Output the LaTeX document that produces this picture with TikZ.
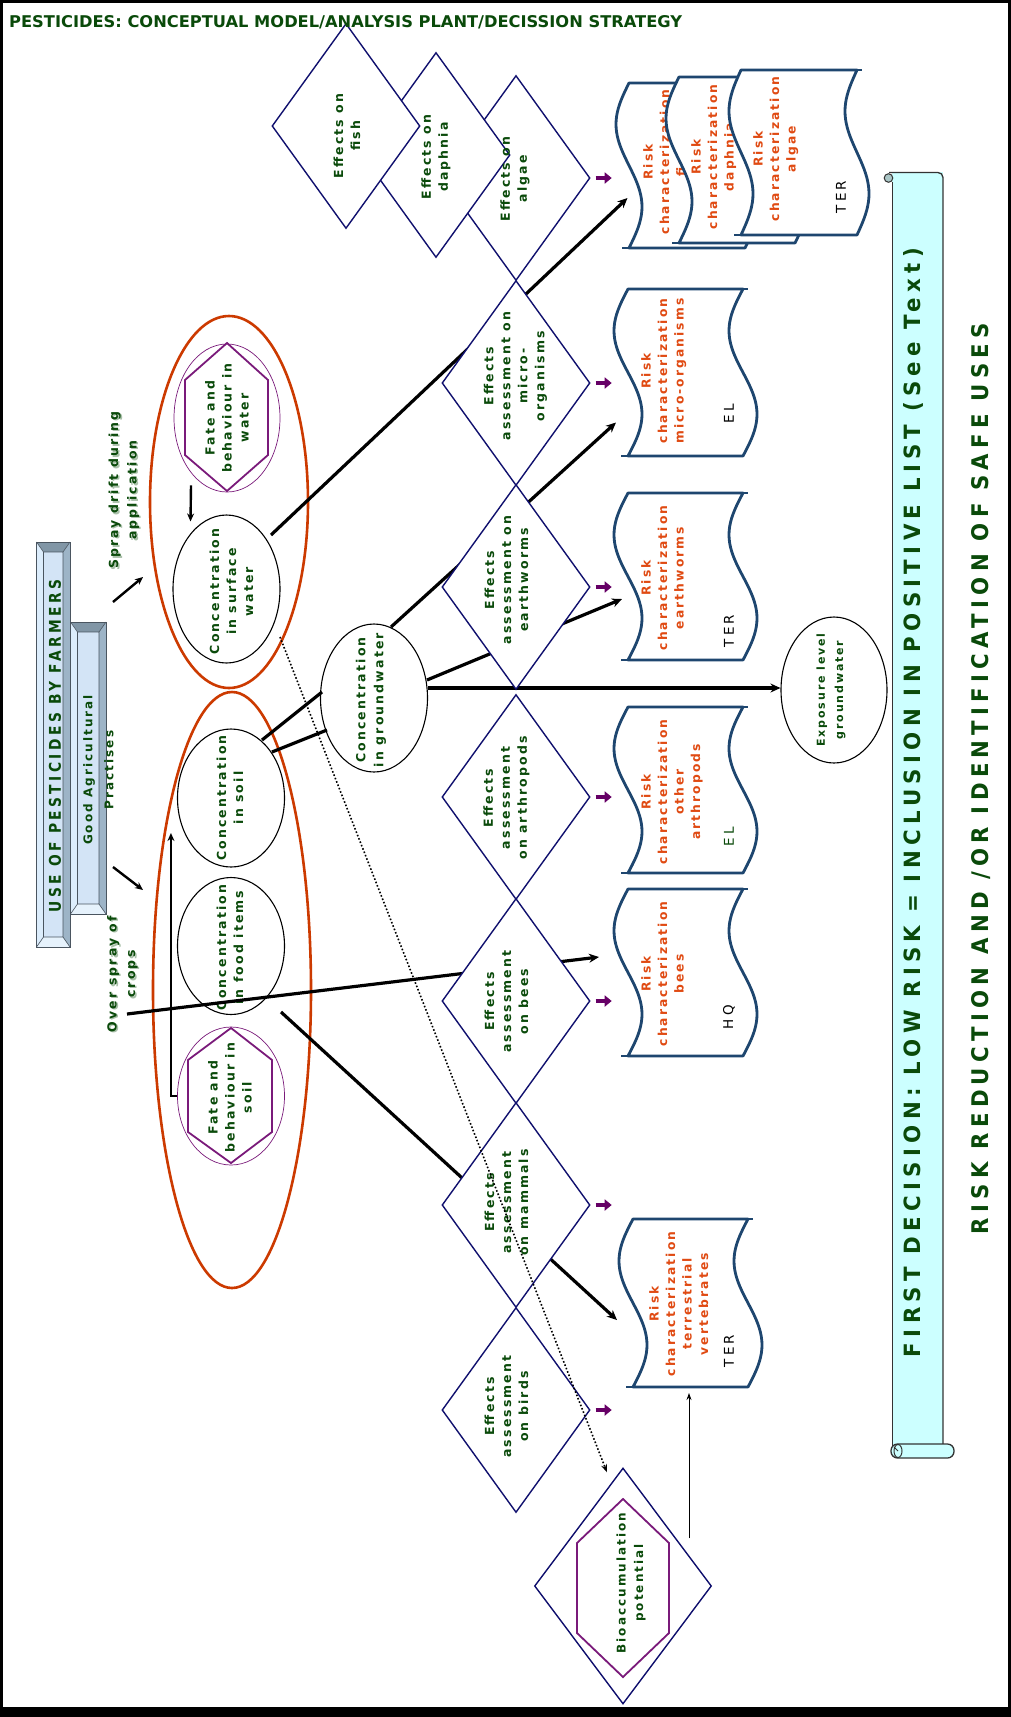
\documentclass[tikz,border=0pt]{standalone}
\usepackage{fontspec}
\usepackage{graphicx}
\usetikzlibrary{shapes.geometric,arrows.meta,calc}
\setmainfont{DejaVu Sans}
\newfontfamily\gfont[LetterSpace=17]{DejaVu Sans}
\newfontfamily\ofont[LetterSpace=17]{DejaVu Sans}
\newfontfamily\kfont[LetterSpace=24]{DejaVu Sans}
\newfontfamily\wfont[LetterSpace=25]{DejaVu Sans}
\newfontfamily\tfont{DejaVu Sans}

\definecolor{dgreen}{HTML}{0A4A0A}
\definecolor{navy}{HTML}{10106E}
\definecolor{rust}{HTML}{CC3A00}
\definecolor{orng}{HTML}{E04A12}
\definecolor{tapeblue}{HTML}{1E466F}
\definecolor{purp}{HTML}{7A1A7A}
\definecolor{arrowpurp}{HTML}{660066}
\definecolor{scrollc}{HTML}{CCFFFF}
\definecolor{scrolledge}{HTML}{333333}
\definecolor{bvtop}{HTML}{8196A6}
\definecolor{bvright}{HTML}{9DB4C7}
\definecolor{bvleft}{HTML}{DCEDFC}
\definecolor{bvbot}{HTML}{E6F2FC}
\definecolor{bvface}{HTML}{D3E4F6}
\definecolor{bvedge}{HTML}{4A5560}

% named frame of a risk characterisation box: name, x-left, y-top, x-right, y-bottom
\newcommand\riskspot[5]{%
  \node[boxspot, minimum width={#4-#2}, minimum height={#5-#3}] (#1) at ({(#2+#4)/2},{(#3+#5)/2}) {};
}
% the "tape" outline of a risk box: x-left, y-top, x-right, y-bottom, wave amplitude
\newcommand\riskbox[5]{%
  \filldraw[tape] (#1,#2) -- (#3,#2)
    -- plot[domain=0:1,samples=41] ({#3-#5*sin(360*\x)},{#2+(#4-#2)*\x})
    -- (#1,#4)
    -- plot[domain=0:1,samples=41] ({#1-#5*sin(360*(1-\x))},{#4-(#4-#2)*\x})
    -- cycle;
  \draw[tape,fill=none] (#3,#2) -- ++(5,0);
  \draw[tape,fill=none] (#1,#4) -- ++(-7,0);
}

% bevelled label panel: name, x0, y0, x1, y1
\newcommand\bevelbox[5]{%
  \fill[bvtop] (#2,#3) -- (#4,#3) -- ({#4-7},{#3+10}) -- ({#2+7},{#3+10}) -- cycle;
  \fill[bvbot] (#2,#5) -- (#4,#5) -- ({#4-7},{#5-10}) -- ({#2+7},{#5-10}) -- cycle;
  \fill[bvleft] (#2,#3) -- ({#2+7},{#3+10}) -- ({#2+7},{#5-10}) -- (#2,#5) -- cycle;
  \fill[bvright] (#4,#3) -- ({#4-7},{#3+10}) -- ({#4-7},{#5-10}) -- (#4,#5) -- cycle;
  \fill[bvface] ({#2+7},{#3+10}) rectangle ({#4-7},{#5-10});
  \draw[bvedge, line width=0.6pt] ({#2+7},{#3+10}) rectangle ({#4-7},{#5-10})
    (#2,#3) -- ({#2+7},{#3+10}) (#4,#3) -- ({#4-7},{#3+10})
    (#2,#5) -- ({#2+7},{#5-10}) (#4,#5) -- ({#4-7},{#5-10});
  \node[boxspot, draw=bvedge, line width=0.9pt, minimum width={#4-#2}, minimum height={#5-#3}] (#1) at ({(#2+#4)/2},{(#3+#5)/2}) {};
}

\begin{document}
\begin{tikzpicture}[x=1pt,y=-1pt,
  gtext/.style={rotate=90, align=center, text=dgreen, inner sep=0,
    font=\gfont\bfseries\fontsize{12.5}{17}\selectfont},
  otext/.style={rotate=90, align=center, text=orng, inner sep=0, anchor=north,
    font=\ofont\bfseries\fontsize{12.3}{16.5}\selectfont},
  ktext/.style={rotate=90, text=black, inner sep=0,
    font=\kfont\fontsize{13.5}{15}\selectfont},
  boxspot/.style={rectangle, inner sep=0, outer sep=0},
  dia/.style={diamond, draw=navy, fill=white, line width=1.4pt, inner sep=0,
    minimum width=148, minimum height=205},
  ell/.style={ellipse, draw=black, line width=1.1pt, inner sep=0,
    minimum width=107, minimum height=148},
  redell/.style={ellipse, draw=rust, line width=2.6pt, inner sep=0},
  hexring/.style={ellipse, draw=purp, line width=0.7pt, inner sep=0},
  hexline/.style={draw=purp, line width=1.8pt, line join=miter},
  tape/.style={draw=tapeblue, fill=white, line width=2.8pt, line join=round},
  conn/.style={draw=black, line width=3.2pt, -{Stealth[length=10pt,width=9pt]}},
  plainconn/.style={draw=black, line width=3.2pt},
  smallconn/.style={draw=black, line width=2.4pt, -{Stealth[length=8pt,width=7pt]}},
  thinconn/.style={draw=black, line width=0.9pt, -{Stealth[length=7pt,width=5pt]}},
  dotline/.style={draw=black, line width=1.6pt, dotted, -{Stealth[length=8pt,width=6pt]}},
  parrow/.style={draw=arrowpurp, line width=3.6pt, -{Triangle[length=7pt,width=11pt]}},
]
\useasboundingbox (0,0) rectangle (1011,1717);
% frame
\fill[black] (0,0) rectangle (1011,1717);
\fill[white] (2.5,2.5) rectangle (1007.5,1707);

% named frames of the risk characterisation boxes
\riskspot{rfish}{629}{83}{745}{248}
\riskspot{rdaph}{679}{77}{795}{243}
\riskspot{ralgae}{741}{70}{857}{235}
\riskspot{rmicro}{628}{289}{743}{456}
\riskspot{rworm}{628}{493}{743}{660}
\riskspot{rarth}{628}{707}{743}{873}
\riskspot{rbee}{628}{889}{743}{1056}
\riskspot{rterr}{633}{1219}{748}{1387}

% ---- left: use of pesticides ----
\bevelbox{use}{36.5}{542}{70}{947}
\bevelbox{gap}{70.5}{622}{106}{914}
\node[rotate=90, text=dgreen, inner sep=0] (tuse) at (55,746)
  {\resizebox{333pt}{12pt}{\wfont\bfseries USE OF PESTICIDES BY FARMERS}};
\node[gtext, font=\gfont\bfseries\fontsize{12}{21}\selectfont] (tgap) at (98.5,770) {Good Agricultural\\Practises};

% spray routes
\node[gtext, text=dgreen!35, font=\gfont\bfseries\fontsize{12.5}{18.5}\selectfont] at (125.5,491.5) {Spray drift during\\application};
\node[gtext, font=\gfont\bfseries\fontsize{12.5}{18.5}\selectfont] (tspray) at (124,490) {Spray drift during\\application};
\node[gtext, text=dgreen!35, font=\gfont\bfseries\fontsize{12.5}{18.5}\selectfont] at (124,975.5) {Over spray of\\crops};
\node[gtext, font=\gfont\bfseries\fontsize{12.5}{18.5}\selectfont] (tover) at (122.5,974) {Over spray of\\crops};

% ---- compartments ----
\node[redell, minimum width=158, minimum height=372] (zwater) at (229,502) {};
\node[redell, minimum width=158, minimum height=596] (zsoil) at (232,990) {};

\node[hexring, minimum width=106, minimum height=148] (hwring) at (227,418) {};
\begin{scope}[shift={(hwring.center)}]
  \draw[hexline] (0,-75) -- (41,-38) -- (41,37) -- (0,73) -- (-42,37) -- (-42,-38) -- cycle;
\end{scope}
\node[gtext] (thw) at (227,418) {Fate and\\behaviour in\\water};

\node[ell] (sw) at (226.5,589) {};
\node[gtext] (tsw) at (231.5,591.5) {Concentration\\in surface\\water};

\node[ell, minimum height=138] (csoil) at (231,798) {};
\node[gtext] (tsoil) at (230,798) {Concentration\\in soil};
\node[ell, minimum height=137] (cfood) at (231,946) {};
\node[gtext] (tfood) at (230,947.5) {Concentration\\in food items};

\node[hexring, minimum width=107, minimum height=138] (hsring) at (231,1096) {};
\begin{scope}[shift={(hsring.center)}]
  \draw[hexline] (0,-68) -- (41,-36) -- (41,36) -- (0,67) -- (-43,36) -- (-43,-36) -- cycle;
\end{scope}
\node[gtext] (ths) at (230,1097.5) {Fate and\\behaviour in\\soil};

\node[ell] (gw) at (374,698) {};
\node[gtext, font=\gfont\bfseries\fontsize{12.5}{18}\selectfont] (tgw) at (371,700) {Concentration\\in groundwater};

\node[ell, minimum width=106, minimum height=146] (expo) at (834,690) {};
\node[gtext, font=\gfont\bfseries\fontsize{11}{18}\selectfont] (texpo) at (831,690) {Exposure level\\groundwater};

% ---- pathways into the compartments ----
\coordinate (sdA) at (113,602);
\coordinate (sdB) at (143,577);
\coordinate (osA) at (113,867);
\coordinate (osB) at (143,890);
\draw[smallconn] (sdA) -- (sdB);
\draw[smallconn] (osA) -- (osB);
\draw[smallconn] ($(hwring.south)+(-36,-7)$) -- ($(sw.north)+(-36,7)$);
\draw[smallconn] (hsring.west) -| ($(csoil.west)+(-6,35)$);

% ---- main connectors (they pass behind the diamonds) ----
\coordinate (ovs) at (127,1014);
\draw[plainconn] ($(csoil.center)+(31,-58)$) -- ($(gw.center)+(-52,-6)$);
\draw[plainconn] ($(csoil.center)+(41,-46)$) -- ($(gw.center)+(-47,32)$);
\draw[conn] ($(gw.east)+(0,-10)$) -- ($(expo.west)+(0,-2)$);
\draw[conn] ($(sw.center)+(44.5,-54)$) -- ($(rfish.west)+(-1.5,32.5)$);
\draw[conn] ($(gw.center)+(17,-71)$) -- ($(rmicro.west)+(-12,50)$);
\draw[conn] ($(gw.center)+(53,-18)$) -- ($(rworm.west)+(-6,22.5)$);
\draw[conn] (ovs) -- ($(rbee.west)+(-29,-15.5)$);
\draw[conn] ($(cfood.center)+(50,66)$) -- ($(rterr.west)+(-16,17)$);

% ---- effects assessment diamonds ----
\node[dia] (dalgae) at (516,178) {};
\node[dia] (ddaph) at (436,155) {};
\node[dia] (dfish) at (346,126) {};
\node[dia] (dmicro) at (516,383) {};
\node[dia] (dworm) at (516,587) {};
\node[dia] (darth) at (516,797) {};
\node[dia] (dbee) at (516,1001) {};
\node[dia] (dmam) at (516,1205) {};
\node[dia] (dbird) at (516,1410) {};
\node[dia, minimum width=177, minimum height=236] (bio) at (623,1586) {};
\begin{scope}[shift={(bio.center)}]
  \draw[hexline] (0,-87) -- (46,-43) -- (46,47) -- (0,91) -- (-46,47) -- (-46,-43) -- cycle;
\end{scope}

% ---- risk characterisation boxes ----
\riskbox{629}{83}{745}{248}{13}
\node[otext] (trfish) at (643,162) {Risk\\characterization\\fish};
\riskbox{679}{77}{795}{243}{13}
\node[otext] (trdaph) at (691,157) {Risk\\characterization\\daphnia};
\riskbox{741}{70}{857}{235}{12}
\node[otext] (tralgae) at (753,149) {Risk\\characterization\\algae};
\node[ktext] (kalgae) at (841,197) {TER};

\riskbox{628}{289}{743}{456}{14}
\node[otext] (trmicro) at (641,371) {Risk\\characterization\\micro-organisms};
\node[ktext] (kmicro) at (729,414) {EL};
\riskbox{628}{493}{743}{660}{14}
\node[otext] (trworm) at (641,578) {Risk\\characterization\\earthworms};
\node[ktext] (kworm) at (729,631) {TER};
\riskbox{628}{707}{743}{873}{14}
\node[otext] (trarth) at (641,792) {Risk\\characterization\\other\\arthropods};
\node[ktext, text=dgreen] (karth) at (729,837) {EL};
\riskbox{628}{889}{743}{1056}{14}
\node[otext] (trbee) at (641,974) {Risk\\characterization\\bees};
\node[ktext] (kbee) at (729,1017) {HQ};
\riskbox{633}{1219}{748}{1387}{14}
\node[otext] (trterr) at (649,1304) {Risk\\characterization\\terrestrial\\vertebrates};
\node[ktext] (kterr) at (729,1351) {TER};

% ---- diamond texts ----
\node[gtext] (tfish) at (347,136) {Effects on\\fish};
\node[gtext] (tdaph) at (436,157) {Effects on\\daphnia};
\node[gtext] (talgae) at (515,179) {Effects on\\algae};
\node[gtext] (tmicro) at (515.5,376) {Effects\\assessment on\\micro-\\organisms};
\node[gtext] (tworm) at (506.5,580) {Effects\\assessment on\\earthworms};
\node[gtext] (tarth) at (506.5,798) {Effects\\assessment\\on arthropods};
\node[gtext] (tbee) at (506.5,1001.5) {Effects\\assessment\\on bees};
\node[gtext] (tmam) at (506.5,1202.5) {Effects\\assessment\\on mammals};
\node[gtext] (tbird) at (506.5,1406.5) {Effects\\assessment\\on birds};
\node[gtext, font=\gfont\bfseries\fontsize{12}{17.5}\selectfont] (tbio) at (631,1583) {Bioaccumulation\\potential};

% ---- effects to risk characterisation ----
\foreach \d in {dalgae,dmicro,dworm,darth,dbee,dmam,dbird}
  \draw[parrow] ($(\d.east)+(5,0)$) -- ++(16,0);

% ---- bioaccumulation pathway ----
\draw[dotline] ($(sw.center)+(53.5,48)$) -- ($(bio.north)+(-16,5)$);
\draw[thinconn] ($(bio.north)+(66,71)$) -- ($(rterr.south)+(-1.5,6)$);

% ---- first decision scroll ----
\fill[scrollc] (892,172) rectangle (943,1450);
\draw[scrolledge, line width=1.3pt] (892.5,1452) -- (892.5,182);
\draw[scrolledge, line width=1.3pt, rounded corners=5] (889,172.5) -- (943,172.5) -- (943,1446);
\filldraw[fill=scrollc!55!gray, draw=scrolledge, line width=1pt] (888.5,178) circle (4.3);
\filldraw[fill=scrollc, draw=scrolledge, line width=1.3pt, rounded corners=6.5] (891,1444) rectangle (954,1458);
\draw[scrolledge, line width=1pt] (898,1451) ellipse (4 and 6.5);
\draw[scrolledge, line width=0.9pt] (898,1451) -- (894,1447);
\node[boxspot, minimum width=51, minimum height=1278] (scroll) at (917.5,811) {};
\node[rotate=90, text=dgreen, inner sep=0] (dec1) at (913,802.5)
  {\resizebox{1109pt}{17pt}{\wfont\bfseries FIRST DECISION: LOW RISK = INCLUSION IN POSITIVE LIST (See Text)}};
\node[rotate=90, text=dgreen, inner sep=0] (dec2) at (981,778.5)
  {\resizebox{911pt}{17pt}{\wfont\bfseries RISK REDUCTION AND /OR IDENTIFICATION OF SAFE USES}};

% ---- title ----
\node[anchor=west, text=dgreen, inner sep=0] (title) at (9,22)
  {\resizebox{673pt}{12pt}{\tfont\bfseries PESTICIDES: CONCEPTUAL MODEL/ANALYSIS PLANT/DECISSION STRATEGY}};
\end{tikzpicture}
\end{document}
